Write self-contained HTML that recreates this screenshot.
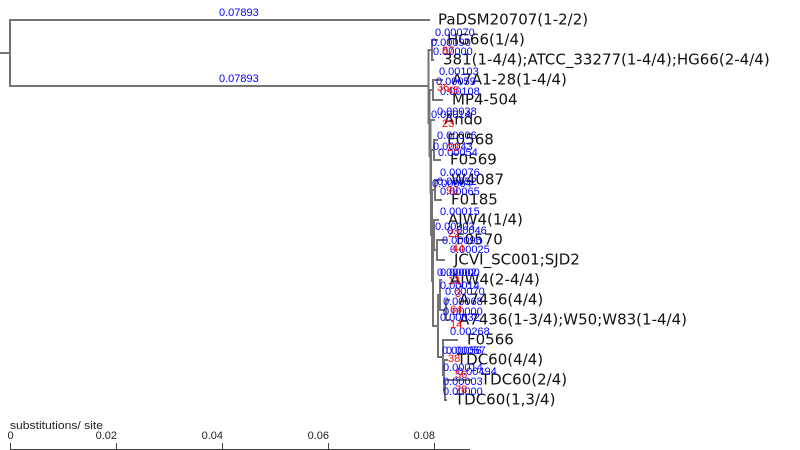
<!DOCTYPE html>
<html><head><meta charset="utf-8"><style>
html,body{margin:0;padding:0;background:#fff;}
svg{display:block;}
.lf{font-family:"DejaVu Sans","Liberation Sans",sans-serif;font-size:15px;fill:#111;}
.bl{font-family:"Liberation Sans",sans-serif;font-size:11px;fill:#0000ff;}
.rd{font-family:"Liberation Sans",sans-serif;font-size:11px;fill:#ff0000;}
.ax{font-family:"Liberation Sans",sans-serif;font-size:11px;fill:#222;}
</style></head><body>
<svg width="800" height="450" viewBox="0 0 800 450" xmlns="http://www.w3.org/2000/svg">
<g stroke="#747474" stroke-width="2" fill="none" stroke-linecap="square">
<path d="M0 53H10M10 20V86M10 20H429M10 86H428.5"/>
<path d="M428.5 50V123"/>
<path d="M428.5 50H432M432 40V60M432 40H437M432 60H433"/>
<path d="M428.5 123H429.5M429.5 90V156"/>
<path d="M429.5 90H433M433 80V100M433 80H442M433 100H442"/>
<path d="M429.5 156H430.5M430.5 120V193M430.5 120H434"/>
<path d="M430.5 193H431M431 150V235"/>
<path d="M431 150H434M434 140V160M434 140H437M434 160H440"/>
<path d="M431 235H432M432 190V281"/>
<path d="M432 190H435M435 180V200M435 180H441M435 200H441"/>
<path d="M432 281H433M433 235V326"/>
<path d="M433 235H434M434 220V250M434 220H438"/>
<path d="M434 250H437M437 240V260M437 240H446M437 260H444"/>
<path d="M433 326H438M438 295V357"/>
<path d="M438 295H440M440 280V310M440 280H441"/>
<path d="M440 310H446M446 300V320M446 300H449M446 320H449"/>
<path d="M438 357H443M443 340V375M443 340H457"/>
<path d="M443 375H444M444 360V390M444 360H447"/>
<path d="M444 390H445M445 380V400M445 380H471M445 400H446"/>
</g>
<g class="lf">
<text x="438" y="24.5">PaDSM20707(1-2/2)</text>
<text x="447" y="44.5">HG66(1/4)</text>
<text x="443" y="64.5">381(1-4/4);ATCC_33277(1-4/4);HG66(2-4/4)</text>
<text x="452" y="84.5">A7A1-28(1-4/4)</text>
<text x="452" y="104.5">MP4-504</text>
<text x="444" y="124.5">Ando</text>
<text x="447" y="144.5">F0568</text>
<text x="450" y="164.5">F0569</text>
<text x="451" y="184.5">W4087</text>
<text x="451" y="204.5">F0185</text>
<text x="448" y="224.5">AJW4(1/4)</text>
<text x="456" y="244.5">F0570</text>
<text x="454" y="264.5">JCVI_SC001;SJD2</text>
<text x="450" y="284.5">AJW4(2-4/4)</text>
<text x="459" y="304.5">A7436(4/4)</text>
<text x="459" y="324.5">A7436(1-3/4);W50;W83(1-4/4)</text>
<text x="467" y="344.5">F0566</text>
<text x="457" y="364.5">TDC60(4/4)</text>
<text x="481" y="384.5">TDC60(2/4)</text>
<text x="455" y="404.5">TDC60(1,3/4)</text>
</g>
<g class="bl">
<text x="219" y="16">0.07893</text>
<text x="219" y="82">0.07893</text>
<text x="435" y="36">0.00070</text>
<text x="431" y="46">0.00090</text>
<text x="433" y="55">0.00000</text>
<text x="439" y="75">0.00103</text>
<text x="436" y="85">0.00059</text>
<text x="440" y="95">0.00108</text>
<text x="437" y="115">0.00038</text>
<text x="431" y="118">0.00014</text>
<text x="437" y="139">0.00006</text>
<text x="433" y="150">0.00043</text>
<text x="438" y="156">0.00054</text>
<text x="440" y="176">0.00076</text>
<text x="437" y="185">0.00052</text>
<text x="432" y="187">0.00004</text>
<text x="440" y="195">0.00065</text>
<text x="440" y="215">0.00015</text>
<text x="435" y="230">0.00003</text>
<text x="447" y="234">0.00046</text>
<text x="442" y="244">0.00096</text>
<text x="450" y="253">0.00025</text>
<text x="437" y="276">0.00002</text>
<text x="440" y="276">0.00000</text>
<text x="440" y="289">0.00014</text>
<text x="445" y="295">0.00070</text>
<text x="443" y="305">0.00068</text>
<text x="443" y="315">0.00000</text>
<text x="440" y="321">0.00032</text>
<text x="450" y="335">0.00268</text>
<text x="442" y="354">0.00056</text>
<text x="446" y="354">0.00057</text>
<text x="443" y="371">0.00014</text>
<text x="457" y="375">0.00494</text>
<text x="443" y="385">0.00003</text>
<text x="443" y="395">0.00000</text>
</g>
<g class="rd">
<text x="442" y="54">87</text>
<text x="437" y="91">36</text>
<text x="447" y="94">45</text>
<text x="442" y="127">23</text>
<text x="447" y="151">23</text>
<text x="446" y="194">90</text>
<text x="448" y="237">22</text>
<text x="452" y="252">44</text>
<text x="448" y="284">13</text>
<text x="455" y="297">3</text>
<text x="450" y="313">64</text>
<text x="450" y="328">14</text>
<text x="448" y="362">38</text>
<text x="455" y="378">56</text>
<text x="455" y="393">78</text>
</g>
<g class="ax">
<text x="10" y="429" textLength="93" lengthAdjust="spacingAndGlyphs">substitutions/ site</text>
<text x="7.5" y="439">0</text>
<text x="117" y="439" text-anchor="end">0.02</text>
<text x="223" y="439" text-anchor="end">0.04</text>
<text x="329" y="439" text-anchor="end">0.06</text>
<text x="435" y="439" text-anchor="end">0.08</text>
</g>
<g stroke="#444" stroke-width="1" fill="none">
<path d="M10 449.5H470"/>
<path d="M10.5 443V450M116.5 443V450M222.5 443V450M328.5 443V450M434.5 443V450"/>
</g>
</svg>
</body></html>
